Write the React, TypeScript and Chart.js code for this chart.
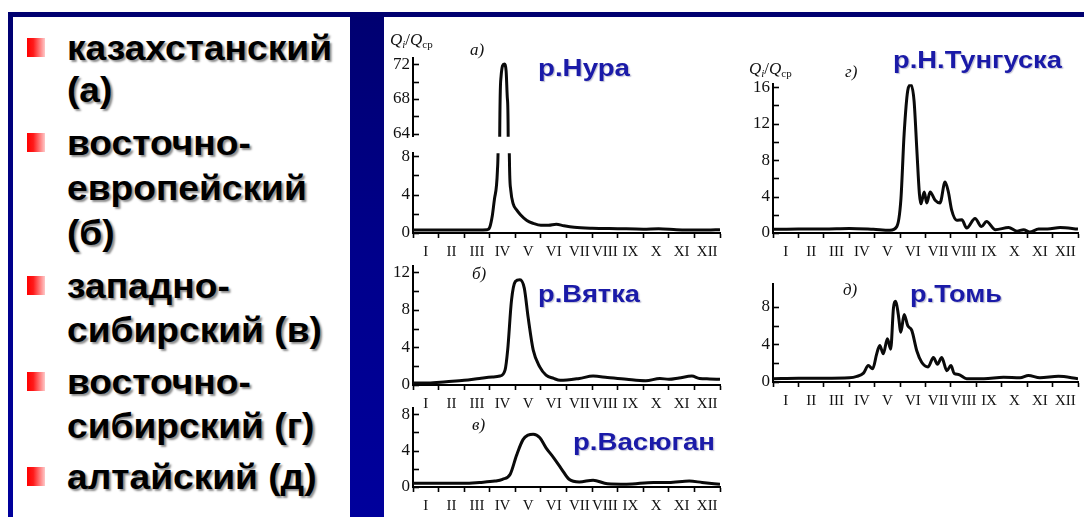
import React, { useEffect, useRef } from 'react';
import { Chart, registerables } from 'chart.js';

Chart.register(...registerables);

// ---------------- data ----------------
const MONTH_LABELS = ['I', 'II', 'III', 'IV', 'V', 'VI', 'VII', 'VIII', 'IX', 'X', 'XI', 'XII'];
const X_TICK_VALUES = [0, 0.5, 1, 1.5, 2, 2.5, 3, 3.5, 4, 4.5, 5, 5.5, 6, 6.5, 7, 7.5, 8, 8.5, 9, 9.5, 10, 10.5, 11, 11.5, 12];

const Y_TICKS_NURA_UPPER = [64, 66, 68, 70, 72];
const Y_TICKS_8 = [0, 2, 4, 6, 8];
const Y_TICKS_12 = [0, 2, 4, 6, 8, 10, 12];
const Y_TICKS_16 = [0, 2, 4, 6, 8, 10, 12, 14, 16];

// а) р.Нура (казахстанский тип)
const nuraMonths = [0, 1, 2, 2.9, 3.0, 3.1, 3.2, 3.3, 3.36, 3.39, 3.44, 3.5, 3.57, 3.64, 3.69, 3.72, 3.74, 3.77, 3.82, 3.92, 4.05, 4.2, 4.45, 4.7, 5.0, 5.3, 5.6, 5.9, 6.3, 7.0, 8.0, 9.0, 9.6, 10.3, 11.0, 11.5, 12];
const nuraValues = [0.3, 0.3, 0.3, 0.35, 0.6, 1.8, 3.8, 6.5, 20, 64, 70.5, 71.8, 72, 71.2, 68, 64, 20, 7.5, 4.5, 3.0, 2.4, 1.9, 1.3, 1.0, 0.8, 0.8, 0.9, 0.75, 0.6, 0.5, 0.45, 0.4, 0.45, 0.35, 0.3, 0.3, 0.35];

// б) р.Вятка
const vyatkaMonths = [0, 0.6, 1.3, 2.0, 2.6, 3.1, 3.4, 3.6, 3.7, 3.85, 4.0, 4.18, 4.35, 4.5, 4.7, 4.96, 5.2, 5.5, 5.75, 6.5, 7.04, 7.6, 8.35, 9.1, 9.65, 10.0, 10.4, 10.9, 11.2, 11.6, 12];
const vyatkaValues = [0.2, 0.2, 0.35, 0.5, 0.7, 0.85, 0.95, 1.6, 3.7, 9, 11, 11.2, 10.3, 7.2, 3.7, 1.9, 1.05, 0.7, 0.5, 0.7, 0.95, 0.8, 0.6, 0.45, 0.7, 0.6, 0.75, 0.95, 0.7, 0.65, 0.6];

// в) р.Васюган
const vasyuganMonths = [0, 1, 2, 2.6, 3.2, 3.5, 3.8, 4.05, 4.3, 4.5, 4.7, 4.96, 5.2, 5.5, 5.8, 6.1, 6.5, 7.04, 7.6, 8.35, 9.4, 10.0, 10.8, 11.3, 12];
const vasyuganValues = [0.4, 0.4, 0.4, 0.5, 0.65, 0.85, 1.4, 3.5, 5.2, 5.7, 5.8, 5.4, 4.3, 3.2, 2.0, 0.85, 0.55, 0.75, 0.35, 0.3, 0.5, 0.5, 0.65, 0.5, 0.3];

// г) р.Н.Тунгуска
const tunguskaMonths = [0, 1, 2, 3, 3.95, 4.6, 4.87, 5.03, 5.16, 5.3, 5.42, 5.55, 5.66, 5.76, 5.82, 5.95, 6.05, 6.18, 6.38, 6.57, 6.77, 6.9, 7.03, 7.23, 7.43, 7.62, 7.95, 8.2, 8.4, 8.75, 9.27, 9.6, 9.86, 10.1, 10.45, 10.8, 11.3, 12];
const tunguskaValues = [0.4, 0.45, 0.45, 0.5, 0.4, 0.3, 0.7, 3.6, 10.9, 15.6, 16.3, 14.5, 9.1, 4.3, 3.2, 4.5, 3.3, 4.5, 3.6, 3.3, 5.6, 4.5, 2.5, 1.4, 1.45, 0.55, 1.6, 0.7, 1.25, 0.36, 0.6, 0.2, 0.36, 0.1, 0.43, 0.43, 0.6, 0.43];

// д) р.Томь
const tomMonths = [0, 1, 2, 3.0, 3.3, 3.56, 3.75, 3.92, 4.08, 4.2, 4.34, 4.5, 4.63, 4.74, 4.83, 4.93, 5.03, 5.16, 5.3, 5.46, 5.66, 5.85, 6.1, 6.31, 6.47, 6.64, 6.84, 7.0, 7.13, 7.3, 7.62, 8.3, 9.07, 9.72, 10.05, 10.5, 11.23, 12];
const tomValues = [0.35, 0.4, 0.4, 0.45, 0.6, 0.95, 1.75, 1.4, 3.0, 3.9, 3.0, 4.6, 3.5, 7.9, 8.6, 7.2, 5.3, 7.2, 6.0, 5.5, 3.3, 2.1, 1.6, 2.6, 1.9, 2.6, 1.2, 1.75, 0.9, 0.8, 0.35, 0.35, 0.5, 0.45, 0.7, 0.45, 0.6, 0.35];

const LEGEND_ITEMS = [
  ['казахстанский', '(а)'],
  ['восточно-', 'европейский', '(б)'],
  ['западно-', 'сибирский (в)'],
  ['восточно-', 'сибирский (г)'],
  ['алтайский (д)'],
];
const PANEL_LETTERS = ['а)', 'б)', 'в)', 'г)', 'д)'];
const RIVER_NAMES = ['р.Нура', 'р.Вятка', 'р.Васюган', 'р.Н.Тунгуска', 'р.Томь'];

// ---------------- helpers ----------------
const SANS = '"Liberation Sans", Arial, sans-serif';
const SERIF = '"Liberation Serif", "Times New Roman", serif';

let measureCtx: CanvasRenderingContext2D | null = null;
function textWidth(text: string, font: string): number {
  if (!measureCtx) measureCtx = document.createElement('canvas').getContext('2d');
  measureCtx!.font = font;
  return measureCtx!.measureText(text).width;
}

type TxtProps = {
  text: string;
  left: number;
  baseline: number;
  size: number;
  serif?: boolean;
  bold?: boolean;
  italic?: boolean;
  color?: string;
  scaleX?: number;
  shadow?: string;
};
function Txt(p: TxtProps) {
  const k = p.serif ? 0.8375 : 0.8465;
  return (
    <div
      style={{
        position: 'absolute',
        left: p.left,
        top: p.baseline - k * p.size,
        fontFamily: p.serif ? SERIF : SANS,
        fontSize: p.size,
        lineHeight: `${p.size}px`,
        fontWeight: p.bold ? 700 : 400,
        fontStyle: p.italic ? 'italic' : 'normal',
        color: p.color || '#000',
        whiteSpace: 'nowrap',
        transform: `scaleX(${p.scaleX || 1})`,
        transformOrigin: '0 0',
        textShadow: p.shadow,
      }}
    >
      {p.text}
    </div>
  );
}

const innerYTicks = {
  id: 'innerYTicks',
  afterDraw(chart: any) {
    const y = chart.scales.y;
    const ctx = chart.ctx;
    const left = chart.chartArea.left;
    ctx.save();
    ctx.strokeStyle = '#000';
    ctx.lineWidth = 1.6;
    y.ticks.forEach((t: any) => {
      const py = Math.round(y.getPixelForValue(t.value)) + 0.5;
      ctx.beginPath();
      ctx.moveTo(left, py);
      ctx.lineTo(left + 6, py);
      ctx.stroke();
    });
    ctx.restore();
  },
};

type ChartProps = {
  months: number[];
  values: number[];
  yMin: number;
  yMax: number;
  yTicks: number[];
  showX: boolean;
  left: number;
  areaTop: number;
  areaBottom: number;
  areaWidth: number;
};

const PAD_TOP = 12;
const PAD_BOTTOM_NO_X = 12;
const Y_W = 28;
const X_H = 30;
const PAD_RIGHT = 6;

function RiverChart(p: ChartProps) {
  const ref = useRef<HTMLCanvasElement>(null);
  const padBottom = p.showX ? 0 : PAD_BOTTOM_NO_X;
  const w = Y_W + p.areaWidth + PAD_RIGHT;
  const h = PAD_TOP + (p.areaBottom - p.areaTop) + (p.showX ? X_H : padBottom);

  useEffect(() => {
    const data = p.months.map((m, i) => ({ x: m, y: p.values[i] }));
    const chart = new Chart(ref.current!, {
      type: 'line',
      data: {
        datasets: [
          {
            data,
            borderColor: '#0a0a0a',
            borderWidth: 3,
            pointRadius: 0,
            cubicInterpolationMode: 'monotone',
            fill: false,
          },
        ],
      },
      options: {
        animation: false,
        responsive: false,
        maintainAspectRatio: false,
        events: [],
        layout: { padding: { left: 0, right: PAD_RIGHT, top: PAD_TOP, bottom: padBottom } },
        plugins: { legend: { display: false }, tooltip: { enabled: false } },
        scales: {
          x: {
            type: 'linear',
            min: 0,
            max: 12,
            display: p.showX,
            afterBuildTicks: (s: any) => {
              s.ticks = X_TICK_VALUES.map((v) => ({ value: v }));
            },
            afterFit: (s: any) => {
              if (p.showX) s.height = X_H;
            },
            grid: {
              drawOnChartArea: false,
              drawTicks: true,
              tickLength: 5,
              tickWidth: 1.6,
              tickColor: (c: any) =>
                c.tick && Number.isInteger(c.tick.value) ? '#000' : 'rgba(0,0,0,0)',
            },
            border: { display: true, color: '#000', width: 2 },
            ticks: {
              autoSkip: false,
              maxRotation: 0,
              minRotation: 0,
              padding: 5,
              color: '#111',
              font: { family: SERIF, size: 15 },
              callback: (v: any) => {
                const n = Number(v);
                const f = n - Math.floor(n);
                return Math.abs(f - 0.5) < 1e-6 ? MONTH_LABELS[Math.floor(n)] : '';
              },
            },
          },
          y: {
            type: 'linear',
            min: p.yMin,
            max: p.yMax,
            afterBuildTicks: (s: any) => {
              s.ticks = p.yTicks.map((v) => ({ value: v }));
            },
            afterFit: (s: any) => {
              s.width = Y_W;
            },
            grid: { drawOnChartArea: false, drawTicks: false },
            border: { display: true, color: '#000', width: 2 },
            ticks: {
              autoSkip: false,
              padding: 3,
              color: '#111',
              font: { family: SERIF, size: 17 },
              callback: (v: any) => (Number(v) % 4 === 0 ? String(v) : ''),
            },
          },
        },
      },
      plugins: [innerYTicks],
    } as any);
    return () => chart.destroy();
  }, []);

  return (
    <canvas
      ref={ref}
      width={w}
      height={h}
      style={{ position: 'absolute', left: p.left, top: p.areaTop - PAD_TOP, width: w, height: h }}
    />
  );
}

function QLabel({ left, baseline }: { left: number; baseline: number }) {
  return (
    <div
      style={{
        position: 'absolute',
        left,
        top: baseline - 15,
        fontFamily: SERIF,
        fontSize: 17,
        lineHeight: '18px',
        color: '#111',
        whiteSpace: 'nowrap',
      }}
    >
      <i>Q</i>
      <i style={{ fontSize: 11, verticalAlign: -3 }}>i</i>
      <span>/</span>
      <i>Q</i>
      <span style={{ fontSize: 11, verticalAlign: -3 }}>ср</span>
    </div>
  );
}

export default function App() {
  const legendFont = `700 35px ${SANS}`;
  const legendScale = 265 / textWidth('казахстанский', legendFont);
  const riverFont = `700 23px ${SANS}`;
  const riverTargets = [92, 102, 142, 169, 92];
  const riverPos = [
    { left: 538, baseline: 76 },
    { left: 538, baseline: 302 },
    { left: 573, baseline: 450 },
    { left: 893, baseline: 68 },
    { left: 910, baseline: 302 },
  ];
  const legendBaselines = [
    [60, 102],
    [155, 200, 245],
    [298, 342],
    [394, 438],
    [489],
  ];
  const letterPos = [
    { left: 470, baseline: 55 },
    { left: 472, baseline: 279 },
    { left: 472, baseline: 430 },
    { left: 845, baseline: 77 },
    { left: 843, baseline: 295 },
  ];

  return (
    <div
      style={{
        position: 'absolute',
        left: 0,
        top: 0,
        width: 1084,
        height: 517,
        background: '#fff',
        overflow: 'hidden',
        fontFamily: SANS,
      }}
    >
      {/* navy slide background */}
      <div
        style={{
          position: 'absolute',
          left: 8,
          top: 12,
          width: 1076,
          height: 505,
          background: 'linear-gradient(180deg, #000070 0%, #00008c 50%, #00009c 100%)',
        }}
      />
      {/* left white box */}
      <div style={{ position: 'absolute', left: 13, top: 17, width: 337, height: 500, background: '#fff' }} />
      {/* right white box */}
      <div style={{ position: 'absolute', left: 384, top: 17, width: 700, height: 500, background: '#fff' }} />

      {/* legend list */}
      {LEGEND_ITEMS.map((lines, i) => (
        <React.Fragment key={i}>
          <div
            style={{
              position: 'absolute',
              left: 27,
              top: legendBaselines[i][0] - 22,
              width: 18,
              height: 19,
              background: 'linear-gradient(90deg, #ff0000 0%, #ff1a1a 35%, #ffc8c8 100%)',
            }}
          />
          {lines.map((t, j) => (
            <Txt
              key={j}
              text={t}
              left={67}
              baseline={legendBaselines[i][j]}
              size={35}
              bold
              scaleX={legendScale}
              color="#000"
              shadow="2px 2px 2px rgba(0,0,0,0.45)"
            />
          ))}
        </React.Fragment>
      ))}

      {/* charts */}
      <RiverChart months={nuraMonths} values={nuraValues} yMin={63.67} yMax={72.67} yTicks={Y_TICKS_NURA_UPPER}
        showX={false} left={385} areaTop={57} areaBottom={138} areaWidth={307} />
      <RiverChart months={nuraMonths} values={nuraValues} yMin={0} yMax={8.31} yTicks={Y_TICKS_8}
        showX={true} left={385} areaTop={152} areaBottom={233} areaWidth={307} />
      <RiverChart months={vyatkaMonths} values={vyatkaValues} yMin={0} yMax={12.63} yTicks={Y_TICKS_12}
        showX={true} left={385} areaTop={265} areaBottom={385} areaWidth={307} />
      <RiverChart months={vasyuganMonths} values={vasyuganValues} yMin={0} yMax={8.65} yTicks={Y_TICKS_8}
        showX={true} left={385} areaTop={407} areaBottom={487} areaWidth={307} />
      <RiverChart months={tunguskaMonths} values={tunguskaValues} yMin={0} yMax={16.33} yTicks={Y_TICKS_16}
        showX={true} left={745} areaTop={83} areaBottom={233} areaWidth={305} />
      <RiverChart months={tomMonths} values={tomValues} yMin={0} yMax={10.42} yTicks={Y_TICKS_8}
        showX={true} left={745} areaTop={283} areaBottom={382} areaWidth={305} />

      {/* axis captions */}
      <QLabel left={390} baseline={46} />
      <QLabel left={749} baseline={75} />

      {/* panel letters */}
      {PANEL_LETTERS.map((t, i) => (
        <Txt key={t} text={t} left={letterPos[i].left} baseline={letterPos[i].baseline} size={17} serif italic color="#111" />
      ))}

      {/* river names */}
      {RIVER_NAMES.map((t, i) => (
        <Txt
          key={t}
          text={t}
          left={riverPos[i].left}
          baseline={riverPos[i].baseline}
          size={23}
          bold
          color="#1a1aa8"
          scaleX={riverTargets[i] / textWidth(t, riverFont)}
          shadow="1px 1px 1px rgba(120,120,160,0.45)"
        />
      ))}
    </div>
  );
}
